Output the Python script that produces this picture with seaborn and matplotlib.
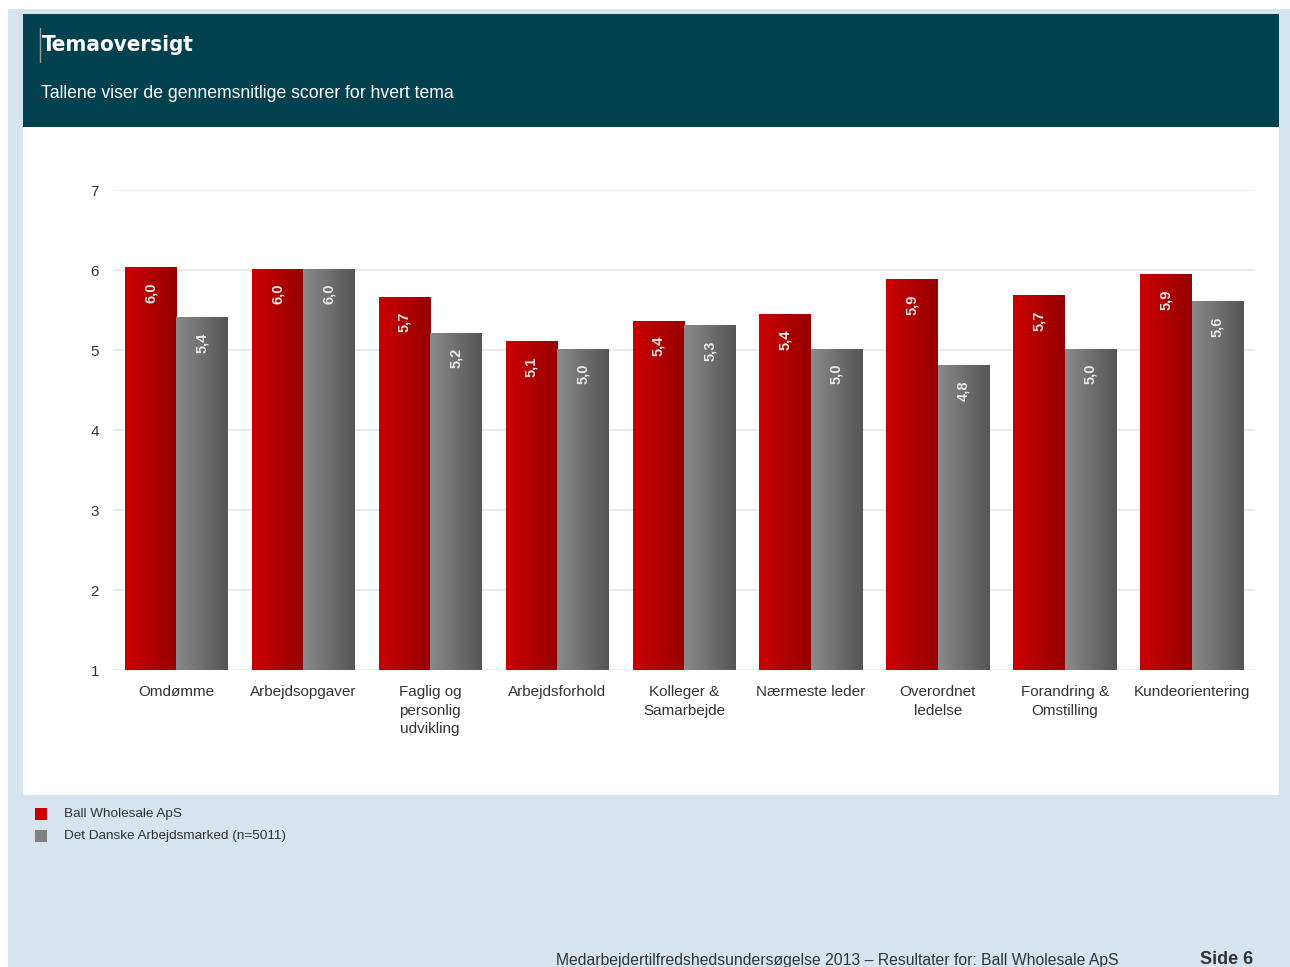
import numpy as np
import pandas as pd
import matplotlib
matplotlib.use('Agg')
import matplotlib.pyplot as plt
import seaborn as sns
from matplotlib.colors import LinearSegmentedColormap
from matplotlib.patches import Rectangle
from matplotlib.lines import Line2D

temaer = ['Omdømme', 'Arbejdsopgaver', 'Faglig og\npersonlig\nudvikling', 'Arbejdsforhold',
          'Kolleger &\nSamarbejde', 'Nærmeste leder', 'Overordnet\nledelse',
          'Forandring &\nOmstilling', 'Kundeorientering']
ball = [6.03, 6.01, 5.66, 5.10, 5.36, 5.44, 5.88, 5.68, 5.94]
danske = [5.40, 6.01, 5.21, 5.01, 5.30, 5.01, 4.80, 5.01, 5.60]
serier = ['Ball Wholesale ApS', 'Det Danske Arbejdsmarked (n=5011)']
y_ticks = [1, 2, 3, 4, 5, 6, 7]

df = pd.DataFrame({
    'tema': temaer * 2,
    'score': ball + danske,
    'serie': [serier[0]] * len(temaer) + [serier[1]] * len(temaer),
})

W, H = 1290, 967
sns.set_style('white')
plt.rcParams['font.family'] = ['Liberation Sans', 'DejaVu Sans']

fig = plt.figure(figsize=(W / 100, H / 100), dpi=100)
fig.patch.set_facecolor('white')


def px_rect(x0, y0, x1, y1, color, z=0):
    # rektangel i pixel-koordinater (origo øverst til venstre)
    r = Rectangle((x0 / W, 1 - y1 / H), (x1 - x0) / W, (y1 - y0) / H,
                  transform=fig.transFigure, facecolor=color, edgecolor='none', zorder=z)
    fig.add_artist(r)


def px_text(x, y, s, **kw):
    fig.text(x / W, 1 - y / H, s, **kw)


# baggrund
px_rect(8, 9, W, H, '#d5e4ef', z=-3)
px_rect(23, 14, 1279, 127, '#024250', z=-2)
px_rect(23, 127, 1279, 795, 'white', z=-2)

fig.add_artist(Line2D([40 / W, 40 / W], [1 - 28 / H, 1 - 62 / H], transform=fig.transFigure,
                      color='#9a9a9a', lw=1))
px_text(42, 45, 'Temaoversigt', color='white', fontsize=16, fontweight='bold',
        family=['DejaVu Sans'], fontstretch='condensed', va='center', ha='left')
px_text(41, 94, 'Tallene viser de gennemsnitlige scorer for hvert tema', color='white',
        fontsize=12.7, va='center', ha='left')

# diagram
ax = fig.add_axes([113 / W, 1 - 670 / H, (1255 - 113) / W, (670 - 190) / H])
ax.set_facecolor('none')
sns.barplot(data=df, x='tema', y='score', hue='serie', hue_order=serier,
            palette=['#c00000', '#808080'], width=0.81, gap=0, legend=False, ax=ax,
            zorder=2, linewidth=0)

gradients = [LinearSegmentedColormap.from_list('r', ['#cc0000', '#950000']),
             LinearSegmentedColormap.from_list('g', ['#8a8a8a', '#555555'])]
grad = np.linspace(0, 1, 256).reshape(1, -1)
for cont, cmap in zip(ax.containers, gradients):
    for bar in cont:
        x0, w, h = bar.get_x(), bar.get_width(), bar.get_height()
        ax.imshow(grad, cmap=cmap, aspect='auto', extent=[x0, x0 + w, 1, h],
                  zorder=3, interpolation='bilinear')
        lbl = f'{h:.1f}'.replace('.', ',')
        ax.text(x0 + w / 2, h - 0.31, lbl, rotation=90, ha='center', va='center',
                color='#e8e8e8', fontsize=10.5, fontweight='bold', zorder=4)

ax.set_xlim(-0.5, len(temaer) - 0.5)
ax.set_ylim(1, 7)
ax.set_yticks(y_ticks)
ax.set_yticklabels([str(t) for t in y_ticks])
ax.yaxis.grid(True, color='#e6e6e6', lw=1.2, zorder=0)
ax.set_axisbelow(True)
for s in ax.spines.values():
    s.set_visible(False)
ax.tick_params(axis='both', length=0, labelsize=11, labelcolor='#333333')
ax.tick_params(axis='y', pad=10)
ax.tick_params(axis='x', pad=11)
ax.set_xlabel('')
ax.set_ylabel('')
for t in ax.get_xticklabels():
    t.set_linespacing(1.4)

# legende
farver = ['#cc0000', '#808080']
for i, (navn, f) in enumerate(zip(serier, farver)):
    y = 814 + i * 22
    px_rect(35, y - 6, 47, y + 6, f)
    px_text(64, y, navn, fontsize=9.7, color='#333333', va='center', ha='left')

# sidefod
px_text(556, 961, 'Medarbejdertilfredshedsundersøgelse 2013 – Resultater for: Ball Wholesale ApS',
        fontsize=11.3, color='#333333', va='center', ha='left')
px_text(1200, 960, 'Side 6', fontsize=13, fontweight='bold', color='#333333', va='center', ha='left')

fig.savefig('out.png', dpi=100)
